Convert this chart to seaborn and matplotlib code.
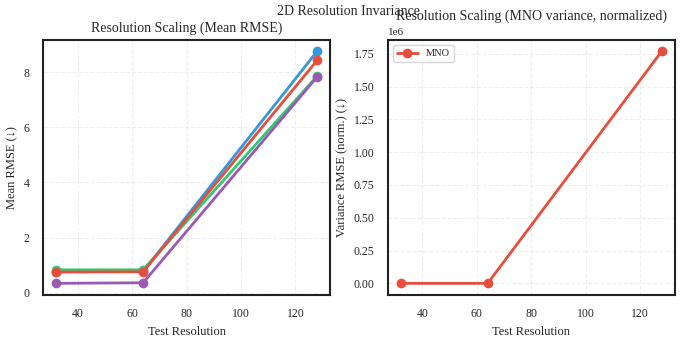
import numpy as np
import pandas as pd
import seaborn as sns
import matplotlib.pyplot as plt

# data
resolutions = [32, 64, 128]
models = ["Model A", "Model B", "MNO", "Model C"]
rmse_a = [0.76, 0.77, 8.76]
rmse_b = [0.83, 0.83, 7.86]
rmse_mno = [0.75, 0.76, 8.43]
rmse_c = [0.34, 0.36, 7.83]
mno_var_norm = [1.0, 1.0, 1.77e6]
colors = ["#3498db", "#2ecc71", "#e74c3c", "#9b59b6"]

sns.set_style("white")
plt.rcParams["font.family"] = ["Liberation Serif", "DejaVu Serif"]

df = pd.DataFrame({
    "res": resolutions * 4,
    "rmse": rmse_a + rmse_b + rmse_mno + rmse_c,
    "model": np.repeat(models, len(resolutions)),
})
df_var = pd.DataFrame({"res": resolutions, "var": mno_var_norm, "model": "MNO"})

fig, axes = plt.subplots(1, 2, figsize=(6.83, 3.39), dpi=100)

ax = axes[0]
sns.lineplot(data=df, x="res", y="rmse", hue="model", palette=colors, marker="o",
             markersize=7, linewidth=2, markeredgewidth=0, ax=ax, legend=False)
ax.set_title("Resolution Scaling (Mean RMSE)", fontsize=10)
ax.set_xlabel("Test Resolution", fontsize=9)
ax.set_ylabel("Mean RMSE (↓)", fontsize=9)

ax = axes[1]
sns.lineplot(data=df_var, x="res", y="var", color=colors[2], marker="o",
             markersize=7, linewidth=2, markeredgewidth=0, ax=ax, label="MNO")
ax.set_title("Resolution Scaling (MNO variance, normalized)", fontsize=10)
ax.set_xlabel("Test Resolution", fontsize=9)
ax.set_ylabel("Variance RMSE (norm.) (↓)", fontsize=9)
ax.legend(loc="upper left", fontsize=7.5)

for ax in axes:
    ax.grid(True, linestyle="--", alpha=0.3)
    ax.tick_params(labelsize=8.5, pad=6)
    for s in ax.spines.values():
        s.set_color("#222222")
        s.set_linewidth(1.5)
    ax.set_xticks([40, 60, 80, 100, 120])
axes[1].yaxis.get_offset_text().set_fontsize(8)
axes[0].set_yticks([0, 2, 4, 6, 8])

fig.suptitle("2D Resolution Invariance", fontsize=10, x=0.51, y=0.985)
fig.subplots_adjust(left=0.063, right=0.988, bottom=0.13, top=0.883, wspace=0.2)
fig.savefig("out.png")
